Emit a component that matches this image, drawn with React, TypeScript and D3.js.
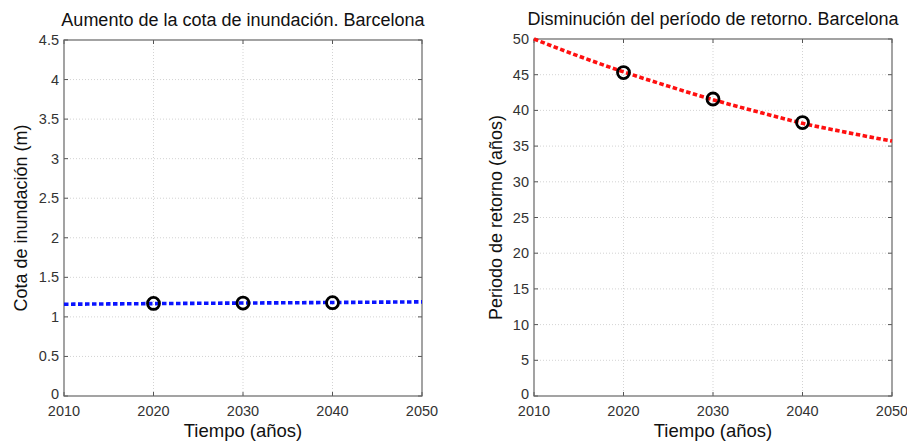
import React from 'react';
import * as d3 from 'd3';

// Years along the x axis
const xTicks = [2010, 2020, 2030, 2040, 2050];

// Left panel: flood level (m)
const cotaCurveYears = [2010, 2020, 2030, 2040, 2050];
const cotaCurve = [1.16, 1.168, 1.175, 1.182, 1.19];
const cotaPointYears = [2020, 2030, 2040];
const cotaPoints = [1.17, 1.175, 1.18];
const cotaTicks = [0, 0.5, 1, 1.5, 2, 2.5, 3, 3.5, 4, 4.5];

// Right panel: return period (years)
const retornoCurveYears = [2010, 2015, 2020, 2025, 2030, 2035, 2040, 2045, 2050];
const retornoCurve = [50, 47.6, 45.4, 43.4, 41.5, 39.8, 38.2, 36.9, 35.7];
const retornoPointYears = [2020, 2030, 2040];
const retornoPoints = [45.3, 41.6, 38.3];
const retornoTicks = [0, 5, 10, 15, 20, 25, 30, 35, 40, 45, 50];

const FONT = 'Liberation Sans, Arial, sans-serif';

type PanelProps = {
  left: number;
  right: number;
  top: number;
  bottom: number;
  yMax: number;
  yTicks: number[];
  curveX: number[];
  curveY: number[];
  pointX: number[];
  pointY: number[];
  color: string;
  title: string;
  yLabel: string;
  yLabelX: number;
};

const Panel = (p: PanelProps) => {
  const x = d3.scaleLinear().domain([2010, 2050]).range([p.left, p.right]);
  const y = d3.scaleLinear().domain([0, p.yMax]).range([p.bottom, p.top]);
  const line = d3.line<number>()
    .x((_, i) => x(p.curveX[i]))
    .y(d => y(d))
    .curve(d3.curveMonotoneX);
  const tickLen = 4;
  const midX = (p.left + p.right) / 2;
  const midY = (p.top + p.bottom) / 2;

  return (
    <g fontFamily={FONT}>
      {/* grid */}
      {xTicks.slice(1, -1).map(t => (
        <line key={'gx' + t} x1={x(t)} x2={x(t)} y1={p.top} y2={p.bottom}
          stroke="#c8c8c8" strokeWidth={0.8} strokeDasharray="1,2" />
      ))}
      {p.yTicks.slice(1, -1).map(t => (
        <line key={'gy' + t} x1={p.left} x2={p.right} y1={y(t)} y2={y(t)}
          stroke="#c8c8c8" strokeWidth={0.8} strokeDasharray="1,2" />
      ))}
      {/* ticks */}
      {xTicks.map(t => (
        <g key={'tx' + t}>
          <line x1={x(t)} x2={x(t)} y1={p.bottom} y2={p.bottom - tickLen} stroke="#555" />
          <line x1={x(t)} x2={x(t)} y1={p.top} y2={p.top + tickLen} stroke="#555" />
          <text x={x(t)} y={p.bottom + 20} textAnchor="middle" fontSize={14.5} fill="#333">{t}</text>
        </g>
      ))}
      {p.yTicks.map(t => (
        <g key={'ty' + t}>
          <line x1={p.left} x2={p.left + tickLen} y1={y(t)} y2={y(t)} stroke="#555" />
          <line x1={p.right} x2={p.right - tickLen} y1={y(t)} y2={y(t)} stroke="#555" />
          <text x={p.left - 5} y={y(t) + (t === 0 ? 3 : 5)} textAnchor="end" fontSize={14.5} fill="#333">{t}</text>
        </g>
      ))}
      {/* box */}
      <rect x={p.left} y={p.top} width={p.right - p.left} height={p.bottom - p.top}
        fill="none" stroke="#666" strokeWidth={1.2} />
      {/* curve */}
      <path d={line(p.curveY) || ''} fill="none" stroke={p.color} strokeWidth={3.6}
        strokeDasharray="4.5,2.5" />
      {/* markers */}
      {p.pointY.map((v, i) => (
        <circle key={'pt' + i} cx={x(p.pointX[i])} cy={y(v)} r={6}
          fill="none" stroke="#000" strokeWidth={2.8} />
      ))}
      {/* labels */}
      <text x={midX} y={p.top - 14} textAnchor="middle" fontSize={18} fill="#111">{p.title}</text>
      <text x={midX} y={p.bottom + 41} textAnchor="middle" fontSize={18.5} fill="#111">Tiempo (años)</text>
      <text transform={`translate(${p.yLabelX},${midY}) rotate(-90)`} textAnchor="middle"
        fontSize={18} fill="#111">{p.yLabel}</text>
    </g>
  );
};

const App = () => (
  <svg width={907} height={442} style={{ position: 'absolute', left: 0, top: 0, background: '#fff' }}>
    <rect width={907} height={442} fill="#fff" />
    <Panel left={64} right={422} top={40} bottom={396} yMax={4.5} yTicks={cotaTicks}
      curveX={cotaCurveYears} curveY={cotaCurve} pointX={cotaPointYears} pointY={cotaPoints}
      color="#0a14ff" title="Aumento de la cota de inundación. Barcelona"
      yLabel="Cota de inundación (m)" yLabelX={27} />
    <Panel left={534} right={892} top={39} bottom={396} yMax={50} yTicks={retornoTicks}
      curveX={retornoCurveYears} curveY={retornoCurve} pointX={retornoPointYears} pointY={retornoPoints}
      color="#ff1010" title="Disminución del período de retorno. Barcelona"
      yLabel="Periodo de retorno (años)" yLabelX={502} />
  </svg>
);

export default App;
